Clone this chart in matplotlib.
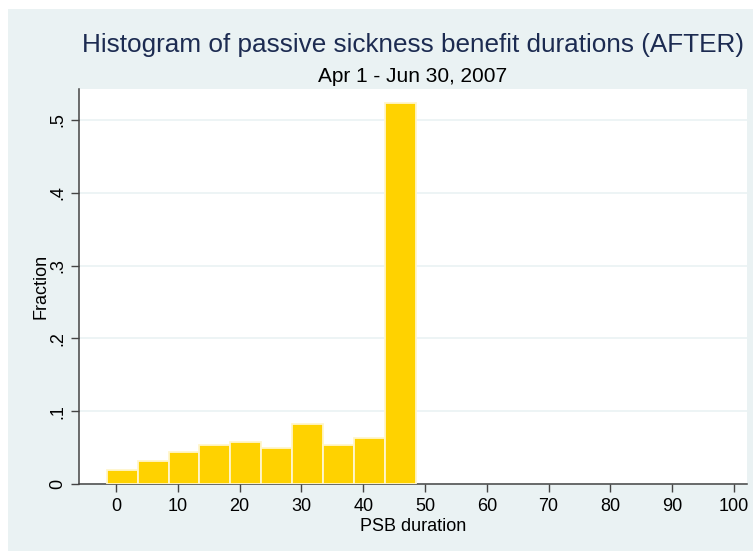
import matplotlib
matplotlib.use("Agg")
import matplotlib.pyplot as plt
from matplotlib.patches import Rectangle

plt.rcParams["font.family"] = ["Liberation Sans", "DejaVu Sans"]

# histogram bins (centre of each 5-day bin) and fraction in each
bin_centers = [1, 6, 11, 16, 21, 26, 31, 36, 41, 46]
fractions = [0.019, 0.032, 0.044, 0.054, 0.057, 0.050, 0.082, 0.054, 0.063, 0.523]
bin_width = 5

xticks = [0, 10, 20, 30, 40, 50, 60, 70, 80, 90, 100]
yticks = [0, 0.1, 0.2, 0.3, 0.4, 0.5]
ytick_labels = ["0", ".1", ".2", ".3", ".4", ".5"]

W, H = 753, 551
fig = plt.figure(figsize=(W / 100, H / 100), dpi=100)
fig.patch.set_facecolor("white")
fig.add_artist(Rectangle((8 / W, 0), 1, (H - 9) / H, transform=fig.transFigure,
                         facecolor="#eaf2f3", edgecolor="none", zorder=0))

ax = fig.add_axes([79 / W, (H - 484) / H, (746.7 - 79) / W, (484 - 89) / H])
ax.set_facecolor("white")
ax.bar(bin_centers, fractions, width=bin_width, color="#ffd200",
       edgecolor="#fff6cc", linewidth=1.3, zorder=3)

ax.set_xlim(-6, 102.06)
ax.set_ylim(0, 0.5425)
ax.set_xticks(xticks)
ax.set_yticks(yticks)
ax.set_yticklabels(ytick_labels, rotation=90, va="center")
ax.grid(axis="y", color="#eaf2f3", linewidth=1.2, zorder=0)
for s in ["top", "right"]:
    ax.spines[s].set_visible(False)
for s in ["left", "bottom"]:
    ax.spines[s].set_color("#444444")
    ax.spines[s].set_linewidth(1.1)
ax.tick_params(axis="both", length=6, width=1.0, color="#444444",
               labelsize=13, labelcolor="black")
ax.tick_params(axis="x", pad=4)
ax.tick_params(axis="y", pad=3)

ax.set_xlabel("PSB duration", fontsize=13, labelpad=2)
ax.set_ylabel("Fraction", fontsize=13, labelpad=0)

cx = (79 + 746.7) / 2 / W
fig.text(cx, (H - 52.3) / H, "Histogram of passive sickness benefit durations (AFTER)",
         ha="center", va="baseline", fontsize=18.8, color="#1c2b51")
fig.text(cx, (H - 81.7) / H, "Apr 1 - Jun 30, 2007",
         ha="center", va="baseline", fontsize=15, color="black")

fig.savefig("out.png", dpi=100)
